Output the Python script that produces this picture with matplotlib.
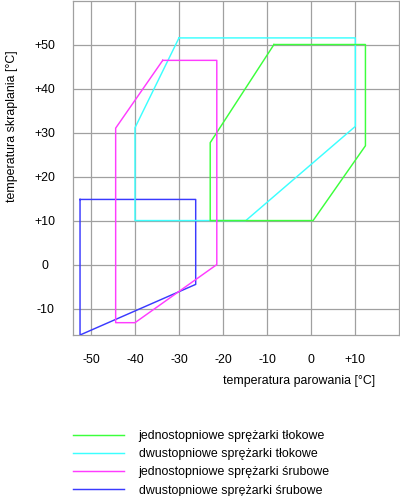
import matplotlib
matplotlib.use("Agg")
import matplotlib.pyplot as plt

plt.rcParams['font.family'] = ['Liberation Sans', 'DejaVu Sans']

# obwiednie pracy sprężarek (temp. parowania, temp. skraplania)
jedno_tlok_x = [-8.5, 12.3, 12.3, 0.4, -23.0, -23.0, -8.5]
jedno_tlok_y = [50.0, 50.0, 27.0, 10.0, 10.0, 27.7, 50.0]

dwu_tlok_x = [-30.1, 10.0, 10.0, -14.9, -40.1, -40.1, -30.1]
dwu_tlok_y = [51.5, 51.5, 31.4, 10.0, 10.0, 31.1, 51.5]

jedno_sruba_x = [-33.8, -21.5, -21.5, -40.1, -44.5, -44.5, -33.8]
jedno_sruba_y = [46.4, 46.4, 0.0, -13.2, -13.2, 31.0, 46.4]

dwu_sruba_x = [-52.6, -26.3, -26.3, -52.6, -52.6]
dwu_sruba_y = [14.8, 14.8, -4.5, -16.0, 14.8]

labels = ["jednostopniowe sprężarki tłokowe",
          "dwustopniowe sprężarki tłokowe",
          "jednostopniowe sprężarki śrubowe",
          "dwustopniowe sprężarki śrubowe"]

xticks = [-50, -40, -30, -20, -10, 0, 10]
xtick_labels = ["-50", "-40", "-30", "-20", "-10", "0", "+10"]
yticks = [-10, 0, 10, 20, 30, 40, 50]
ytick_labels = ["-10", "0", "+10", "+20", "+30", "+40", "+50"]

fs = 8.9

fig = plt.figure(figsize=(4.0, 4.96), dpi=100)
ax = fig.add_axes([73/400, 1-335/496, 326.3/400, 334.5/496])

l_blue, = ax.plot(dwu_sruba_x, dwu_sruba_y, color='#3a3aff', lw=1.05, zorder=3)
l_cyan, = ax.plot(dwu_tlok_x, dwu_tlok_y, color='#3cffff', lw=1.05, zorder=4)
l_green, = ax.plot(jedno_tlok_x, jedno_tlok_y, color='#3cff3c', lw=1.05, zorder=5)
l_mag, = ax.plot(jedno_sruba_x, jedno_sruba_y, color='#ff3cff', lw=1.05, zorder=6)

ax.set_xlim(-54.2, 20)
ax.set_ylim(-16, 60)
ax.set_xticks(xticks)
ax.set_xticklabels(xtick_labels)
ax.set_yticks(yticks)
ax.set_yticklabels(ytick_labels, ha='center')
ax.tick_params(axis='both', length=0, labelsize=fs)
ax.tick_params(axis='y', pad=20)
ax.tick_params(axis='x', pad=14)

ax.grid(True, color='#a0a0a0', lw=0.9, zorder=1)
ax.set_axisbelow(True)
for s in ax.spines.values():
    s.set_color('#a0a0a0')
    s.set_linewidth(0.9)

ax.set_xlabel("temperatura parowania [°C]", fontsize=fs, va='center')
ax.xaxis.set_label_coords((299-73)/326.3, (335-381)/335)
ax.set_ylabel("temperatura skraplania [°C]", fontsize=fs, va='center')
ax.yaxis.set_label_coords((12-73)/326.3, (335-126)/335)

fig.legend([l_green, l_cyan, l_mag, l_blue], labels,
           loc='upper left', bbox_to_anchor=(73/400, 1-430/496),
           frameon=False, fontsize=fs, borderpad=0, borderaxespad=0,
           handlelength=4.1, handletextpad=1.2, labelspacing=0.5)

fig.savefig("out.png", dpi=100)
